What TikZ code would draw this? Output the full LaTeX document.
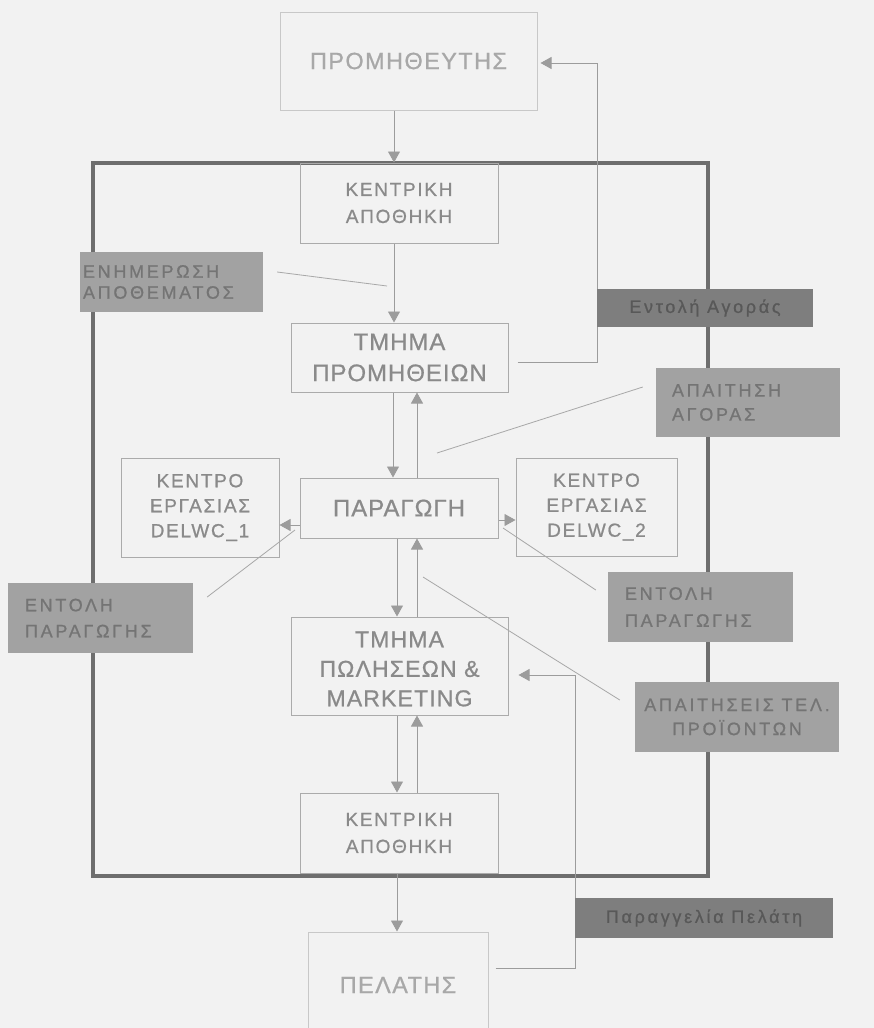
\documentclass[tikz,border=0pt]{standalone}
\usepackage{fontspec}
\setmainfont{Liberation Sans}
\usetikzlibrary{arrows.meta}
\definecolor{bg}{HTML}{F2F2F2}
\definecolor{boxline}{HTML}{ABABAB}
\definecolor{boxtext}{HTML}{8A8A8A}
\definecolor{paleline}{HTML}{C8C8C8}
\definecolor{paletext}{HTML}{A8A8A8}
\definecolor{framecol}{HTML}{6E6E6E}
\definecolor{lblfill}{HTML}{A2A2A2}
\definecolor{lbltext}{HTML}{747474}
\definecolor{darkfill}{HTML}{7E7E7E}
\definecolor{darktext}{HTML}{585858}
\definecolor{conn}{HTML}{9C9C9C}
\definecolor{pointer}{HTML}{A8A8A8}
\newcommand{\fsz}[3]{\fontsize{#1}{#2}\selectfont\addfontfeature{LetterSpace=#3,FakeBold=0.8}}
\begin{document}
\begin{tikzpicture}[x=1pt,y=-1pt,
  unit/.style={draw=boxline, line width=1pt, text=boxtext, align=center, inner sep=0pt, font=\fsz{19}{27}{9}},
  bigunit/.style={unit, font=\fsz{24}{31}{4}},
  pale/.style={draw=paleline, line width=1pt, text=paletext, align=center, inner sep=0pt, font=\fsz{23.5}{28}{6}},
  lbl/.style={fill=lblfill, text=lbltext, inner ysep=0pt, align=left, font=\fsz{18}{24}{15}},
  darklbl/.style={fill=darkfill, text=darktext, inner sep=0pt, font=\fsz{18}{22}{15}},
  flow/.style={draw=conn, line width=0.9pt, -{Triangle[width=12pt,length=11pt,fill=conn]}},
  pointerline/.style={draw=pointer, line width=0.8pt},
  orgframe/.style={draw=framecol, line width=4pt, inner sep=0pt}
]
\fill[bg] (0,0) rectangle (874,1028);
\useasboundingbox (0,0) rectangle (874,1028);

% organisation frame
\node[orgframe, minimum width=615pt, minimum height=713pt] (org) at (400.5,519.5) {};

% units
\node[pale, minimum width=257pt, minimum height=98pt] (prom) at (408.5,61) {ΠΡΟΜΗΘΕΥΤΗΣ};
\node[unit, minimum width=198pt, minimum height=80pt] (kent1) at (399,203) {ΚΕΝΤΡΙΚΗ\\ΑΠΟΘΗΚΗ};
\node[bigunit, minimum width=217pt, minimum height=69pt] (tmprom) at (399.5,357.5) {ΤΜΗΜΑ\\ΠΡΟΜΗΘΕΙΩΝ};
\node[bigunit, minimum width=198pt, minimum height=60pt] (par) at (399,508) {ΠΑΡΑΓΩΓΗ};
\node[unit, minimum width=158pt, minimum height=99pt, font=\fsz{19}{25}{9}] (dw1) at (200,507.5) {ΚΕΝΤΡΟ\\ΕΡΓΑΣΙΑΣ\\DELWC\_1};
\node[unit, minimum width=161pt, minimum height=98pt, font=\fsz{19}{25}{9}] (dw2) at (596.5,507) {ΚΕΝΤΡΟ\\ΕΡΓΑΣΙΑΣ\\DELWC\_2};
\node[unit, minimum width=217pt, minimum height=98pt] (pol) at (399.5,666) {};
\node[text=boxtext, align=center, inner sep=0pt, font=\fsz{23}{29.5}{5}] (poltext) at ([yshift=-3pt]pol.center) {ΤΜΗΜΑ\\ΠΩΛΗΣΕΩΝ \&\\MARKETING};
\fill[bg] ([xshift=1pt,yshift=1pt]pol.south west) rectangle ([xshift=-1pt,yshift=9pt]pol.south east);
\node[unit, minimum width=198pt, minimum height=80pt] (kent2) at (399,833) {ΚΕΝΤΡΙΚΗ\\ΑΠΟΘΗΚΗ};
\node[pale, minimum width=180pt, minimum height=106pt] (pel) at (398,985) {ΠΕΛΑΤΗΣ};

% connectors
\coordinate (c1) at (575,675);
\coordinate (c2) at (597,63);
\draw[flow] ([xshift=-14.5pt]prom.south) -- ([xshift=-5pt]kent1.north);
\draw[flow] ([xshift=-5pt]kent1.south) -- ([xshift=-5.5pt]tmprom.north);
\draw[flow] ([xshift=-6.5pt]tmprom.south) -- ([xshift=-6pt]par.north);
\draw[flow] ([xshift=18pt]par.north) -- ([xshift=17.5pt]tmprom.south);
\draw[flow] ([yshift=-17pt]par.west) -- ([yshift=-17.5pt]dw1.east);
\draw[flow] ([yshift=-12pt]par.east) -- ([yshift=-13pt]dw2.west);
\draw[flow] ([xshift=-2pt]par.south) -- ([xshift=-2.5pt]pol.north);
\draw[flow] ([xshift=17.5pt]pol.north) -- ([xshift=18pt]par.south);
\draw[flow] ([xshift=-2.5pt]pol.south) -- ([xshift=-2pt]kent2.north);
\draw[flow] ([xshift=18pt]kent2.north) -- ([xshift=17.5pt]pol.south);
\draw[flow] ([xshift=-2pt]kent2.south) -- ([xshift=-1pt]pel.north);
\draw[flow] ([xshift=7pt,yshift=17pt]pel.east) -| (c1) -- ([xshift=10pt,yshift=-9pt]pol.east);
\draw[flow] ([xshift=9pt,yshift=-4.5pt]tmprom.east) -| (c2) -- ([xshift=3pt,yshift=-2pt]prom.east);

% labels
\node[lbl, text width=177pt, inner xsep=3pt, minimum height=60pt, font=\fsz{18}{21}{15}] (enim) at (171.5,282) {ΕΝΗΜΕΡΩΣΗ\\ΑΠΟΘΕΜΑΤΟΣ};
\node[darklbl, minimum width=216pt, minimum height=38pt] (agor) at (705,308) {Εντολή Αγοράς};
\node[lbl, text width=152pt, inner xsep=16pt, minimum height=69pt] (apag) at (748,402.5) {ΑΠΑΙΤΗΣΗ\\ΑΓΟΡΑΣ};
\node[lbl, text width=151pt, inner xsep=17pt, minimum height=70pt, font=\fsz{18}{26}{15}] (entL) at (100.5,618) {ΕΝΤΟΛΗ\\ΠΑΡΑΓΩΓΗΣ};
\node[lbl, text width=151pt, inner xsep=17pt, minimum height=70pt, font=\fsz{18}{27}{15}] (entR) at (700.5,607) {ΕΝΤΟΛΗ\\ΠΑΡΑΓΩΓΗΣ};
\node[lbl, align=center, inner xsep=0pt, minimum width=204pt, minimum height=70pt] (apte) at (737,717) {ΑΠΑΙΤΗΣΕΙΣ ΤΕΛ.\\ΠΡΟΪΟΝΤΩΝ};
\node[darklbl, minimum width=258pt, minimum height=40pt] (parag) at (704,918) {Παραγγελία Πελάτη};

% pointer lines
\coordinate (p1) at (387,286);
\coordinate (p2) at (437,453);
\coordinate (p3) at (295,530);
\coordinate (p4) at (503,528);
\coordinate (p5) at (423,577);
\draw[pointerline] ([xshift=14pt,yshift=10pt]enim.east) -- (p1);
\draw[pointerline] ([xshift=-13pt,yshift=15.5pt]apag.west) -- (p2);
\draw[pointerline] ([xshift=14pt,yshift=21pt]entL.east) -- (p3);
\draw[pointerline] ([xshift=-12pt,yshift=17pt]entR.west) -- (p4);
\draw[pointerline] ([xshift=-15pt,yshift=17pt]apte.west) -- (p5);
\end{tikzpicture}
\end{document}
